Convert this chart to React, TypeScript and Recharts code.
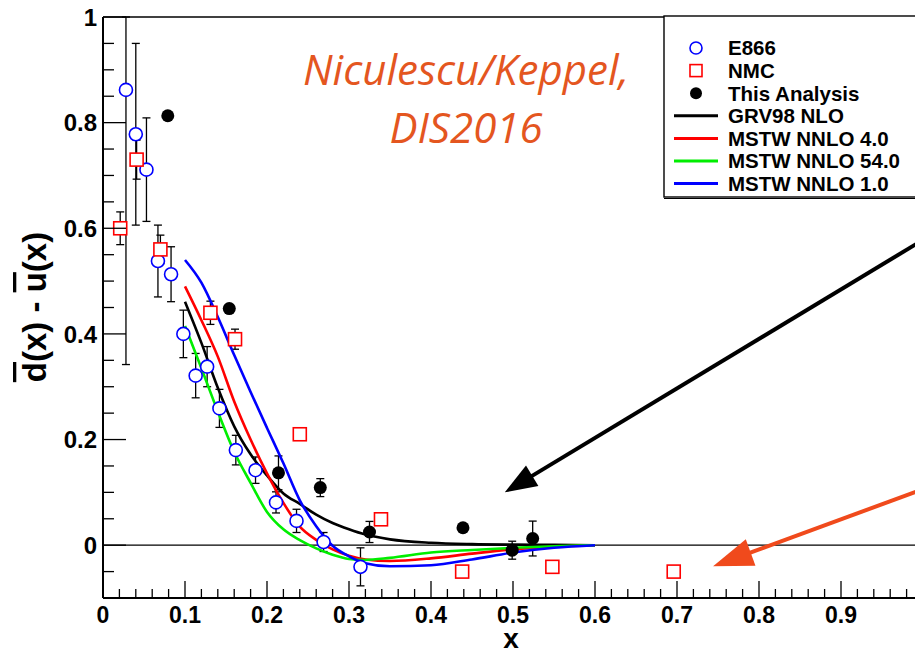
import React from "react";
import { ComposedChart, Line, Scatter, XAxis, YAxis, ErrorBar, ReferenceLine, Legend } from "recharts";

// E866 (open blue circles)
const e866X = [0.028, 0.040, 0.053, 0.067, 0.083, 0.098, 0.113, 0.127, 0.142, 0.162, 0.186, 0.211, 0.236, 0.269, 0.314];
const e866Y = [0.862, 0.778, 0.711, 0.538, 0.513, 0.400, 0.321, 0.338, 0.259, 0.180, 0.142, 0.081, 0.046, 0.006, -0.041];
const e866Err = [0.52, 0.172, 0.098, 0.068, 0.052, 0.045, 0.042, 0.038, 0.036, 0.028, 0.025, 0.02, 0.022, 0.018, 0.036];

// NMC (open red squares)
const nmcX = [0.021, 0.041, 0.070, 0.131, 0.161, 0.240, 0.339, 0.438, 0.548, 0.696];
const nmcY = [0.600, 0.730, 0.560, 0.440, 0.390, 0.210, 0.049, -0.050, -0.041, -0.050];
const nmcErr = [0.031, 0.037, 0.027, 0.022, 0.019, 0, 0, 0, 0, 0];

// This Analysis (filled black circles)
const anaX = [0.079, 0.154, 0.214, 0.265, 0.325, 0.439, 0.499, 0.524];
const anaY = [0.813, 0.448, 0.137, 0.109, 0.025, 0.033, -0.0095, 0.0126];
const anaErr = [0, 0, 0.032, 0.017, 0.02, 0, 0.017, 0.033];

// model curves
const curveX = [0.10, 0.12, 0.14, 0.16, 0.18, 0.20, 0.22, 0.24, 0.26, 0.28, 0.30, 0.32, 0.35, 0.40, 0.45, 0.50, 0.55, 0.60];
const grv98 = [0.461, 0.383, 0.298, 0.225, 0.172, 0.132, 0.098, 0.078, 0.058, 0.042, 0.030, 0.020, 0.011, 0.0045, 0.002, 0.001, 0.0005, 0];
const mstw4 = [0.490, 0.426, 0.357, 0.272, 0.200, 0.136, 0.080, 0.035, 0.010, -0.008, -0.020, -0.027, -0.030, -0.025, -0.016, -0.008, -0.003, 0];
const mstw54 = [0.415, 0.335, 0.253, 0.177, 0.118, 0.063, 0.030, 0.0095, -0.006, -0.018, -0.026, -0.028, -0.024, -0.014, -0.009, -0.005, -0.002, 0];
const mstw1 = [0.540, 0.497, 0.432, 0.360, 0.290, 0.222, 0.155, 0.085, 0.036, -0.001, -0.021, -0.034, -0.040, -0.038, -0.027, -0.014, -0.005, 0];

const Y_MIN = -0.1;
const Y_MAX = 1;
const xLabels = [0, 0.1, 0.2, 0.3, 0.4, 0.5, 0.6, 0.7, 0.8, 0.9, 1];
const yLabels = [0, 0.2, 0.4, 0.6, 0.8, 1];
const xTicks = Array.from({ length: 51 }, (_, i) => +(i * 0.02).toFixed(2));
const yTicks = Array.from({ length: 23 }, (_, i) => +(Y_MIN + i * 0.05).toFixed(2));

const legendNames = ["E866", "NMC", "This Analysis", "GRV98 NLO", "MSTW NNLO 4.0", "MSTW NNLO 54.0", "MSTW NNLO 1.0"];
const legendKinds = ["circle", "square", "dot", "line", "line", "line", "line"];
const legendColors = ["#0000ff", "#ff0000", "#000000", "#000000", "#ff0000", "#00ee00", "#0000ff"];

const FONT = "'Liberation Sans', Arial, sans-serif";

// error bars are cut at the frame, like the original plot
const toPoints = (xs: number[], ys: number[], errs: number[]) =>
    xs.map((x, i) => ({
        x,
        y: ys[i],
        err: [Math.min(errs[i], ys[i] - Y_MIN), Math.min(errs[i], Y_MAX - ys[i])],
    }));
const toCurve = (ys: number[]) => curveX.map((x, i) => ({ x, y: ys[i] }));

const OpenCircle = (p: any) => <circle cx={p.cx} cy={p.cy} r={6.5} fill="#fff" stroke="#0000ff" strokeWidth={1.6} />;
const OpenSquare = (p: any) => <rect x={p.cx - 6.5} y={p.cy - 6.5} width={13} height={13} fill="#fff" stroke="#ff0000" strokeWidth={1.6} />;
const FullDot = (p: any) => <circle cx={p.cx} cy={p.cy} r={6.5} fill="#000" />;

const XTick = (p: any) => {
    const v = p.payload.value;
    const major = xLabels.some((l) => Math.abs(l - v) < 1e-6);
    return (
        <g>
            <line x1={p.x} y1={p.y} x2={p.x} y2={p.y - (major ? 17 : 9)} stroke="#000" strokeWidth={1.3} />
            {major && (
                <text x={p.x} y={p.y + 25} textAnchor="middle" fontSize={23} fontWeight="bold" fontFamily={FONT} fill="#000">
                    {String(v)}
                </text>
            )}
        </g>
    );
};

const YTick = (p: any) => {
    const v = p.payload.value;
    const major = yLabels.some((l) => Math.abs(l - v) < 1e-6);
    return (
        <g>
            <line x1={p.x} y1={p.y} x2={p.x + (major ? 23 : 11)} y2={p.y} stroke="#000" strokeWidth={1.3} />
            {major && (
                <text x={p.x - 6} y={p.y} dy="0.36em" textAnchor="end" fontSize={24} fontWeight="bold" fontFamily={FONT} fill="#000">
                    {String(v)}
                </text>
            )}
        </g>
    );
};

const YTitle = () => (
    <text transform="translate(46, 307) rotate(-90)" textAnchor="middle" fontSize={33} fontWeight="bold" fontFamily={FONT} fill="#000">
        <tspan style={{ textDecoration: "overline" }}>d</tspan>
        <tspan>(x) - </tspan>
        <tspan style={{ textDecoration: "overline" }}>u</tspan>
        <tspan>(x)</tspan>
    </text>
);

const XTitle = (p: any) => {
    const vb = p.viewBox || { x: 103, y: 598, width: 820 };
    return (
        <text x={vb.x + 408} y={vb.y + 50} textAnchor="middle" fontSize={28} fontWeight="bold" fontFamily={FONT} fill="#000">
            x
        </text>
    );
};

const arrow = (color: string, len: number, half: number) => (p: any) => {
    const { x1, y1, x2, y2 } = p;
    const a = Math.atan2(y2 - y1, x2 - x1);
    const c = Math.cos(a), s = Math.sin(a);
    const bx = x2 - len * c, by = y2 - len * s;
    return (
        <g>
            <line x1={x1} y1={y1} x2={bx + 4 * c} y2={by + 4 * s} stroke={color} strokeWidth={4} />
            <polygon points={`${x2},${y2} ${bx - half * s},${by + half * c} ${bx + half * s},${by - half * c}`} fill={color} />
        </g>
    );
};

const LegendBox = () => (
    <svg width={270} height={186} style={{ display: "block" }}>
        <rect x={1} y={1} width={300} height={181} fill="#fff" stroke="#000" strokeWidth={1.4} />
        <line x1={1} y1={183.5} x2={270} y2={183.5} stroke="#000" strokeWidth={1.2} />
        {legendNames.map((name, i) => {
            const cy = 33 + i * 22.6;
            const kind = legendKinds[i];
            const col = legendColors[i];
            return (
                <g key={name}>
                    {kind === "circle" && <circle cx={33} cy={cy} r={6} fill="#fff" stroke={col} strokeWidth={1.6} />}
                    {kind === "square" && <rect x={27} y={cy - 6} width={12} height={12} fill="#fff" stroke={col} strokeWidth={1.6} />}
                    {kind === "dot" && <circle cx={33} cy={cy} r={6} fill={col} />}
                    {kind === "line" && <line x1={11} y1={cy} x2={55} y2={cy} stroke={col} strokeWidth={3} />}
                    <text x={65} y={cy} dy="0.36em" fontSize={20.5} fontWeight="bold" fontFamily={FONT} fill="#000">
                        {name}
                    </text>
                </g>
            );
        })}
    </svg>
);

const App = () => {
    return (
        <div style={{ position: "absolute", left: 0, top: 0, width: 915, height: 654, overflow: "hidden", background: "#fff" }}>
            <ComposedChart width={940} height={654} margin={{ top: 17, right: 17, bottom: 0, left: 0 }}>
                <XAxis
                    type="number"
                    dataKey="x"
                    domain={[0, 1]}
                    ticks={xTicks}
                    interval={0}
                    allowDataOverflow
                    height={56}
                    tickSize={0}
                    tickMargin={0}
                    tickLine={false}
                    tick={<XTick />}
                    axisLine={{ stroke: "#000", strokeWidth: 2 }}
                    label={<XTitle />}
                />
                <YAxis
                    type="number"
                    dataKey="y"
                    domain={[Y_MIN, Y_MAX]}
                    ticks={yTicks}
                    interval={0}
                    allowDataOverflow
                    width={103}
                    tickSize={0}
                    tickMargin={0}
                    tickLine={false}
                    tick={<YTick />}
                    axisLine={{ stroke: "#000", strokeWidth: 2 }}
                    label={<YTitle />}
                />
                <ReferenceLine y={0} stroke="#000" strokeWidth={1.2} />
                <ReferenceLine y={1} stroke="#000" strokeWidth={1.5} />
                <Scatter name="E866" data={toPoints(e866X, e866Y, e866Err)} dataKey="y" shape={OpenCircle} isAnimationActive={false}>
                    <ErrorBar dataKey="err" direction="y" width={4} stroke="#000" strokeWidth={1.3} />
                </Scatter>
                <Scatter name="NMC" data={toPoints(nmcX, nmcY, nmcErr)} dataKey="y" shape={OpenSquare} isAnimationActive={false}>
                    <ErrorBar dataKey="err" direction="y" width={4} stroke="#000" strokeWidth={1.3} />
                </Scatter>
                <Scatter name="This Analysis" data={toPoints(anaX, anaY, anaErr)} dataKey="y" shape={FullDot} isAnimationActive={false}>
                    <ErrorBar dataKey="err" direction="y" width={4} stroke="#000" strokeWidth={1.3} />
                </Scatter>
                <Line name="GRV98 NLO" data={toCurve(grv98)} dataKey="y" type="monotone" stroke="#000" strokeWidth={2.6} dot={false} isAnimationActive={false} />
                <Line name="MSTW NNLO 4.0" data={toCurve(mstw4)} dataKey="y" type="monotone" stroke="#ff0000" strokeWidth={2.6} dot={false} isAnimationActive={false} />
                <Line name="MSTW NNLO 54.0" data={toCurve(mstw54)} dataKey="y" type="monotone" stroke="#00ee00" strokeWidth={2.6} dot={false} isAnimationActive={false} />
                <Line name="MSTW NNLO 1.0" data={toCurve(mstw1)} dataKey="y" type="monotone" stroke="#0000ff" strokeWidth={2.6} dot={false} isAnimationActive={false} />
                <ReferenceLine segment={[{ x: 1.0, y: 0.578 }, { x: 0.49, y: 0.1 }]} ifOverflow="visible" shape={arrow("#000", 32, 12)} />
                <ReferenceLine segment={[{ x: 1.0, y: 0.106 }, { x: 0.744, y: -0.04 }]} ifOverflow="visible" shape={arrow("#f04a1c", 40, 14)} />
                <Legend
                    layout="vertical"
                    align="center"
                    verticalAlign="middle"
                    content={() => <LegendBox />}
                    wrapperStyle={{ left: 663, top: 15, width: 270, height: 186 }}
                />
            </ComposedChart>
            <div
                style={{
                    position: "absolute",
                    left: 266,
                    top: 40,
                    width: 400,
                    textAlign: "center",
                    fontFamily: "'Open Sans', sans-serif",
                    fontStyle: "italic",
                    fontSize: 42,
                    lineHeight: "58px",
                    color: "#e4561f",
                }}
            >
                Niculescu/Keppel,
                <br />
                DIS2016
            </div>
        </div>
    );
};

export default App;
